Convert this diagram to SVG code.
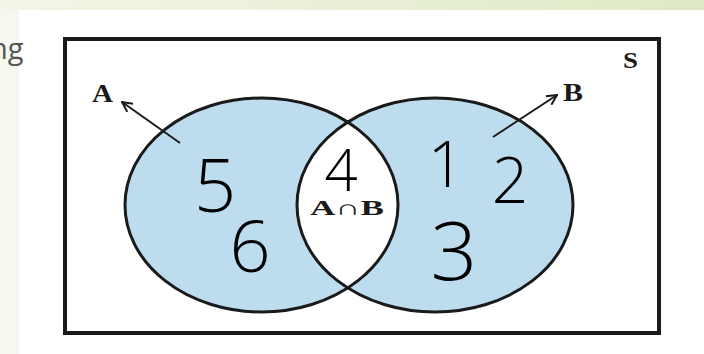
<svg xmlns="http://www.w3.org/2000/svg" width="704" height="354" viewBox="0 0 704 354">
  <defs>
    <linearGradient id="topband" x1="0" y1="0" x2="1" y2="0">
      <stop offset="0" stop-color="#f3f6e8"/>
      <stop offset="1" stop-color="#dfe9c4"/>
    </linearGradient>
    <clipPath id="clipA">
      <ellipse cx="261.5" cy="205" rx="136.5" ry="107"/>
    </clipPath>
    <marker id="openhead" viewBox="0 0 12 12" refX="11" refY="6" markerWidth="12" markerHeight="12" markerUnits="userSpaceOnUse" orient="auto">
      <path d="M1,1 L11,6 L1,11" fill="none" stroke="#1a1a1a" stroke-width="2"/>
    </marker>
    <style>
      .set { fill: #bddcee; }
      .outline { fill: none; stroke: #1a1a1a; stroke-width: 3; }
      .lbl { font-family: "Liberation Serif", "Times New Roman", serif; font-weight: bold; fill: #1a1a1a; }
      .hand { font-family: "Open Sans", "Noto Sans", sans-serif; font-weight: 300; fill: #000; text-anchor: middle; }
      .conn { stroke: #1a1a1a; stroke-width: 2; fill: none; }
    </style>
  </defs>

  <rect x="0" y="0" width="704" height="354" fill="#ffffff"/>
  <rect x="0" y="0" width="704" height="10" fill="url(#topband)"/>
  <rect x="0" y="10" width="19" height="344" fill="#f6f8f0"/>
  <text x="-10" y="59" font-family="Open Sans, Noto Sans, sans-serif" font-size="29" fill="#555555">ng</text>

  <g id="universe">
    <rect x="65" y="39" width="594" height="294" fill="#ffffff" stroke="#1a1a1a" stroke-width="4"/>
    <text class="lbl" x="623" y="68" font-size="23" textLength="15" lengthAdjust="spacingAndGlyphs">S</text>
  </g>

  <g id="setA">
    <ellipse class="set" cx="261.5" cy="205" rx="136.5" ry="107"/>
  </g>
  <g id="setB">
    <ellipse class="set" cx="435" cy="205" rx="138" ry="107"/>
  </g>
  <g id="intersection">
    <ellipse cx="435" cy="205" rx="138" ry="107" fill="#ffffff" clip-path="url(#clipA)"/>
    <text class="lbl" x="310" y="215" font-size="21" textLength="74" lengthAdjust="spacingAndGlyphs">A∩B</text>
  </g>
  <g id="outlines">
    <ellipse class="outline" cx="261.5" cy="205" rx="136.5" ry="107"/>
    <ellipse class="outline" cx="435" cy="205" rx="138" ry="107"/>
  </g>

  <g id="connectors">
    <line class="conn" x1="180" y1="143" x2="122" y2="102" marker-end="url(#openhead)"/>
    <line class="conn" x1="493" y1="137" x2="557" y2="95" marker-end="url(#openhead)"/>
  </g>

  <g id="labelA">
    <text class="lbl" x="92" y="102" font-size="26" textLength="21" lengthAdjust="spacingAndGlyphs">A</text>
  </g>
  <g id="labelB">
    <text class="lbl" x="563" y="101" font-size="26" textLength="20" lengthAdjust="spacingAndGlyphs">B</text>
  </g>

  <g id="elements">
    <text class="hand" x="215" y="212" font-size="74">5</text>
    <text class="hand" x="250" y="272" font-size="72">6</text>
    <text class="hand" x="341" y="191" font-size="58">4</text>
    <text class="hand" x="446" y="187" font-size="64">1</text>
    <text class="hand" x="510" y="203" font-size="64">2</text>
    <text class="hand" x="454" y="280" font-size="82">3</text>
  </g>
</svg>
